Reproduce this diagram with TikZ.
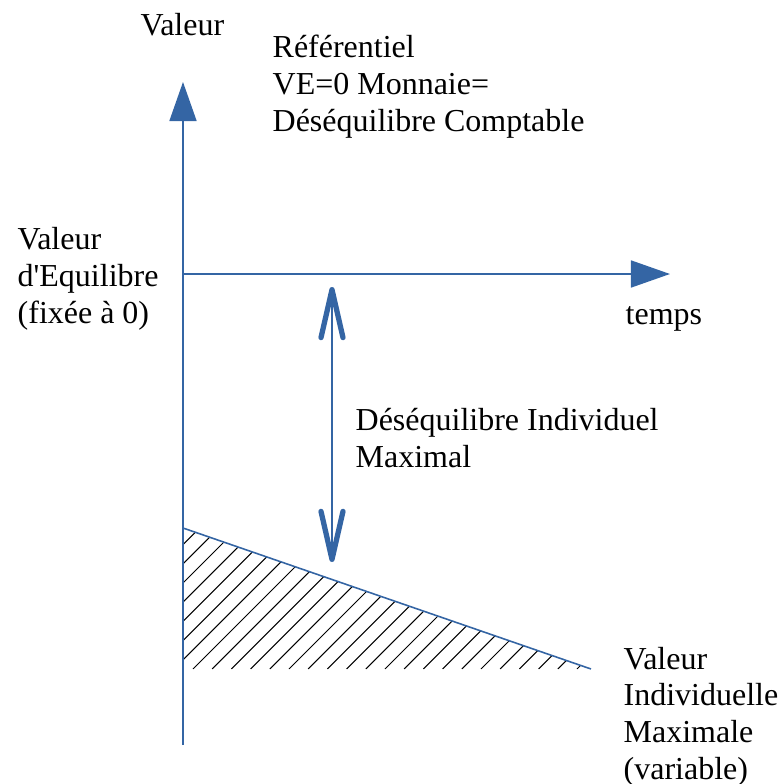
\documentclass[tikz,border=0pt]{standalone}
\usepackage{fontspec}
\newfontfamily\lblfont{Liberation Serif}
\usetikzlibrary{arrows.meta}
\definecolor{axisblue}{RGB}{52,101,164}
\tikzset{
  axis/.style={axisblue,line width=0.45pt,-{Triangle[length=3.9mm,width=2.7mm]}},
  gap/.style={axisblue,line width=0.4pt,
    {Straight Barb[length=4.8mm,width=2.2mm,line width=1.5pt,round]}-{Straight Barb[length=4.8mm,width=2.2mm,line width=1.5pt,round]}},
  lbl/.style={anchor=base west,inner sep=0pt,align=left,font=\lblfont\fontsize{9.1}{10.4}\selectfont},
}
\begin{document}
\begin{tikzpicture}
\useasboundingbox (0,0) rectangle (7.78,7.84);

\coordinate (O) at (1.83,5.10); % valeur d'equilibre
\coordinate (vbot) at (1.83,0.39);
\coordinate (vtop) at (1.83,7.02);
\coordinate (tend) at (6.70,5.10);
\coordinate (maxA) at (1.83,2.56); % valeur individuelle max
\coordinate (maxB) at (5.91,1.15);
\coordinate (maxC) at (1.83,1.15);
\coordinate (gtop) at (3.32,4.97); % desequilibre
\coordinate (gbot) at (3.32,2.22);

% hachures
\begin{scope}
\clip (maxA) -- (maxB) -- (maxC) -- cycle;
\foreach \k in {-8,...,21}
  \draw[line width=0.3pt] (1.93+0.192*\k,1.15) -- ++(1.6,1.6);
\end{scope}
\draw[axisblue,line width=0.45pt] (maxA) -- (maxB);

\draw[axis] (vbot) -- (vtop); % valeur
\draw[axis] (O) -- (tend); % temps
\draw[gap] (gtop) -- (gbot);

% base = derniere ligne
\node[lbl] (valeur) at (1.40,7.49) {Valeur};
\node[lbl] (ref) at (2.72,6.53) {Référentiel\\VE=0 Monnaie=\\Déséquilibre Comptable};
\node[lbl] (equ) at (0.17,4.61) {Valeur\\d'Equilibre\\(fixée à 0)};
\node[lbl] (temps) at (6.25,4.60) {temps};
\node[lbl] (desq) at (3.55,3.17) {Déséquilibre Individuel\\Maximal};
\node[lbl] (vmax) at (6.23,0.05) {Valeur\\Individuelle\\Maximale\\(variable)};

\end{tikzpicture}
\end{document}
